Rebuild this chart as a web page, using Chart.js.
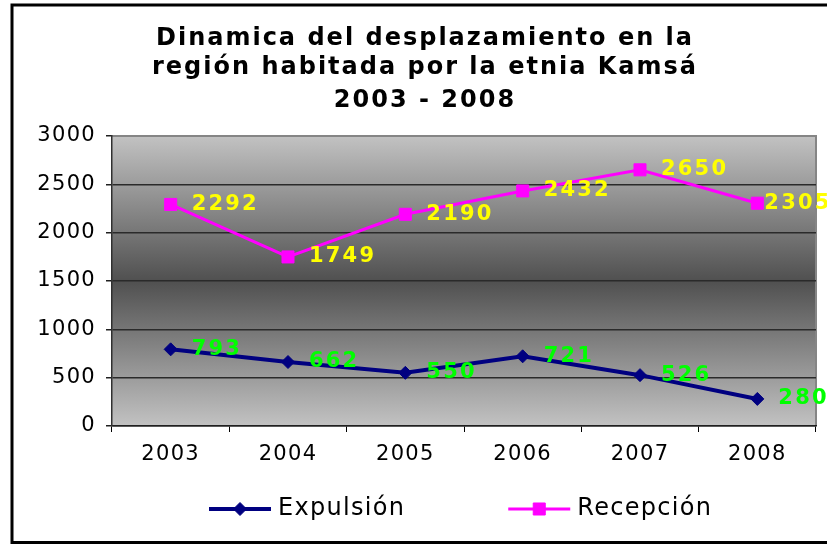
<!DOCTYPE html>
<html><head><meta charset="utf-8">
<script src="https://cdn.jsdelivr.net/npm/chart.js@4.4.1/dist/chart.umd.min.js"></script>
<style>html,body{margin:0;padding:0;background:#fff;}canvas{display:block;}</style>
</head><body>
<canvas id="c" width="827" height="546"></canvas>
<script>
const titleLines = ['Dinamica del desplazamiento en la', 'región habitada por la etnia Kamsá'];
const subtitleText = '2003 - 2008';
const years = ['2003', '2004', '2005', '2006', '2007', '2008'];
const seriesNames = ['Expulsión', 'Recepción'];
const expulsion = [793, 662, 550, 721, 526, 280];
const recepcion = [2292, 1749, 2190, 2432, 2650, 2305];
const yTicks = [0, 500, 1000, 1500, 2000, 2500, 3000];

const FONT = '"DejaVu Sans", Verdana, sans-serif';

const spacingPlugin = {
  id: 'spacing',
  beforeDraw(chart) {
    if (chart.$wrapped) return;
    chart.$wrapped = true;
    const ctx = chart.ctx;
    const wrap = (obj, name, sp) => {
      if (!obj || !obj[name]) return;
      const orig = obj[name].bind(obj);
      obj[name] = function (...a) {
        const prev = ctx.letterSpacing;
        ctx.letterSpacing = sp;
        try { return orig(...a); } finally { ctx.letterSpacing = prev; }
      };
    };
    chart.boxes.forEach(b => { if (!b.axis && b !== chart.legend) wrap(b, 'draw', '2px'); });
    wrap(chart.scales.x, 'drawLabels', '1.3px');
    wrap(chart.scales.y, 'drawLabels', '1.3px');
  }
};

const framePlugin = {
  id: 'frame',
  beforeDraw(chart) {
    const ctx = chart.ctx, ca = chart.chartArea;
    ctx.save();
    ctx.fillStyle = '#fff';
    ctx.fillRect(0, 0, chart.width, chart.height);
    ctx.lineWidth = 3;
    ctx.strokeStyle = '#000';
    ctx.strokeRect(12, 5, chart.width + 20, chart.height - 8.5);
    const g = ctx.createLinearGradient(0, ca.top, 0, ca.bottom);
    g.addColorStop(0, '#c2c2c2');
    g.addColorStop(0.5, '#505050');
    g.addColorStop(1, '#c2c2c2');
    ctx.fillStyle = g;
    ctx.fillRect(ca.left, ca.top, ca.right - ca.left, ca.bottom - ca.top);
    ctx.strokeStyle = '#858585';
    ctx.lineWidth = 2;
    ctx.beginPath();
    ctx.moveTo(ca.left, ca.top);
    ctx.lineTo(ca.right, ca.top);
    ctx.lineTo(ca.right, ca.bottom);
    ctx.stroke();
    ctx.restore();
  }
};

const valuesPlugin = {
  id: 'vals',
  afterDatasetsDraw(chart, args, opts) {
    const ctx = chart.ctx;
    ctx.save();
    ctx.font = 'bold 21px ' + FONT;
    ctx.letterSpacing = '2.2px';
    ctx.textAlign = 'left';
    ctx.textBaseline = 'middle';
    chart.data.datasets.forEach((ds, di) => {
      const meta = chart.getDatasetMeta(di);
      ctx.fillStyle = opts.colors[di];
      meta.data.forEach((pt, i) => {
        const row = opts.dx[di] || [];
        const dx = row[i] != null ? row[i] : opts.offset;
        ctx.fillText(String(ds.data[i]), pt.x + dx, pt.y);
      });
    });
    ctx.restore();
  }
};

const legendPlugin = {
  id: 'xlegend',
  afterDraw(chart, args, opts) {
    const ctx = chart.ctx, ca = chart.chartArea;
    ctx.save();
    ctx.font = '24px ' + FONT;
    ctx.letterSpacing = '1.3px';
    const lineLen = 62, gap = 7, itemGap = 103;
    let x = ca.left + 97;
    const y = chart.height - 37;
    chart.data.datasets.forEach(ds => {
      const w = ctx.measureText(ds.label).width;
      ctx.strokeStyle = ds.borderColor;
      ctx.lineWidth = ds.borderWidth;
      ctx.beginPath();
      ctx.moveTo(x, y);
      ctx.lineTo(x + lineLen, y);
      ctx.stroke();
      ctx.fillStyle = ds.pointBackgroundColor;
      ctx.strokeStyle = ds.pointBorderColor;
      ctx.lineWidth = 1;
      Chart.helpers.drawPoint(ctx, { pointStyle: ds.pointStyle, radius: ds.pointRadius, rotation: 0, borderWidth: 1 }, x + lineLen / 2, y);
      ctx.fillStyle = '#000';
      ctx.textAlign = 'left';
      ctx.textBaseline = 'middle';
      ctx.fillText(ds.label, x + lineLen + gap, y);
      x += lineLen + gap + w + itemGap;
    });
    ctx.restore();
  }
};

new Chart(document.getElementById('c'), {
  type: 'line',
  data: {
    labels: years,
    datasets: [
      {
        label: seriesNames[0], data: expulsion,
        borderColor: '#000080', backgroundColor: '#000080', borderWidth: 4,
        pointStyle: 'rectRot', pointRadius: 6.5, pointBackgroundColor: '#000080', pointBorderColor: '#000080', pointBorderWidth: 1,
        tension: 0, fill: false
      },
      {
        label: seriesNames[1], data: recepcion,
        borderColor: '#ff00ff', backgroundColor: '#ff00ff', borderWidth: 3,
        pointStyle: 'rect', pointRadius: 8.5, pointBackgroundColor: '#ff00ff', pointBorderColor: '#ff00ff', pointBorderWidth: 1,
        tension: 0, fill: false
      }
    ]
  },
  options: {
    responsive: false,
    animation: false,
    devicePixelRatio: 1,
    layout: { padding: { left: 34, right: 11, top: 0, bottom: 80 } },
    scales: {
      x: {
        type: 'category',
        offset: true,
        grid: { display: true, drawOnChartArea: false, drawTicks: true, tickLength: 6, tickColor: '#000', offset: true },
        border: { display: true, color: '#202020', width: 1.5 },
        ticks: { color: '#000', font: { family: FONT, size: 21 }, padding: 10, maxRotation: 0, autoSkip: false },
        afterFit(s) { s.height = 40; }
      },
      y: {
        min: 0, max: 3000,
        afterBuildTicks(s) { s.ticks = yTicks.map(v => ({ value: v })); },
        grid: {
          color: c => (c.tick && c.tick.value === 3000 ? '#858585' : '#2a2a2a'),
          lineWidth: 1.5, tickLength: 6, tickColor: '#202020', drawTicks: true
        },
        border: { display: true, color: '#303030', width: 1.5 },
        ticks: { color: '#000', font: { family: FONT, size: 21 }, padding: 10, callback: v => String(v) },
        afterFit(s) { s.width = 78; }
      }
    },
    plugins: {
      legend: { display: false },
      tooltip: { enabled: false },
      title: {
        display: true,
        text: titleLines,
        color: '#000',
        font: { family: FONT, size: 24, weight: 'bold', lineHeight: '29px' },
        padding: { top: 24, bottom: 0 }
      },
      subtitle: {
        display: true,
        text: subtitleText,
        color: '#000',
        font: { family: FONT, size: 24, weight: 'bold', lineHeight: '28px' },
        padding: { top: 5, bottom: 21 }
      },
      vals: {
        colors: ['#00ff00', '#ffff00'],
        offset: 21,
        dx: [[], [null, null, null, null, null, 7]]
      }
    }
  },
  plugins: [spacingPlugin, framePlugin, valuesPlugin, legendPlugin]
});
</script>
</body></html>
